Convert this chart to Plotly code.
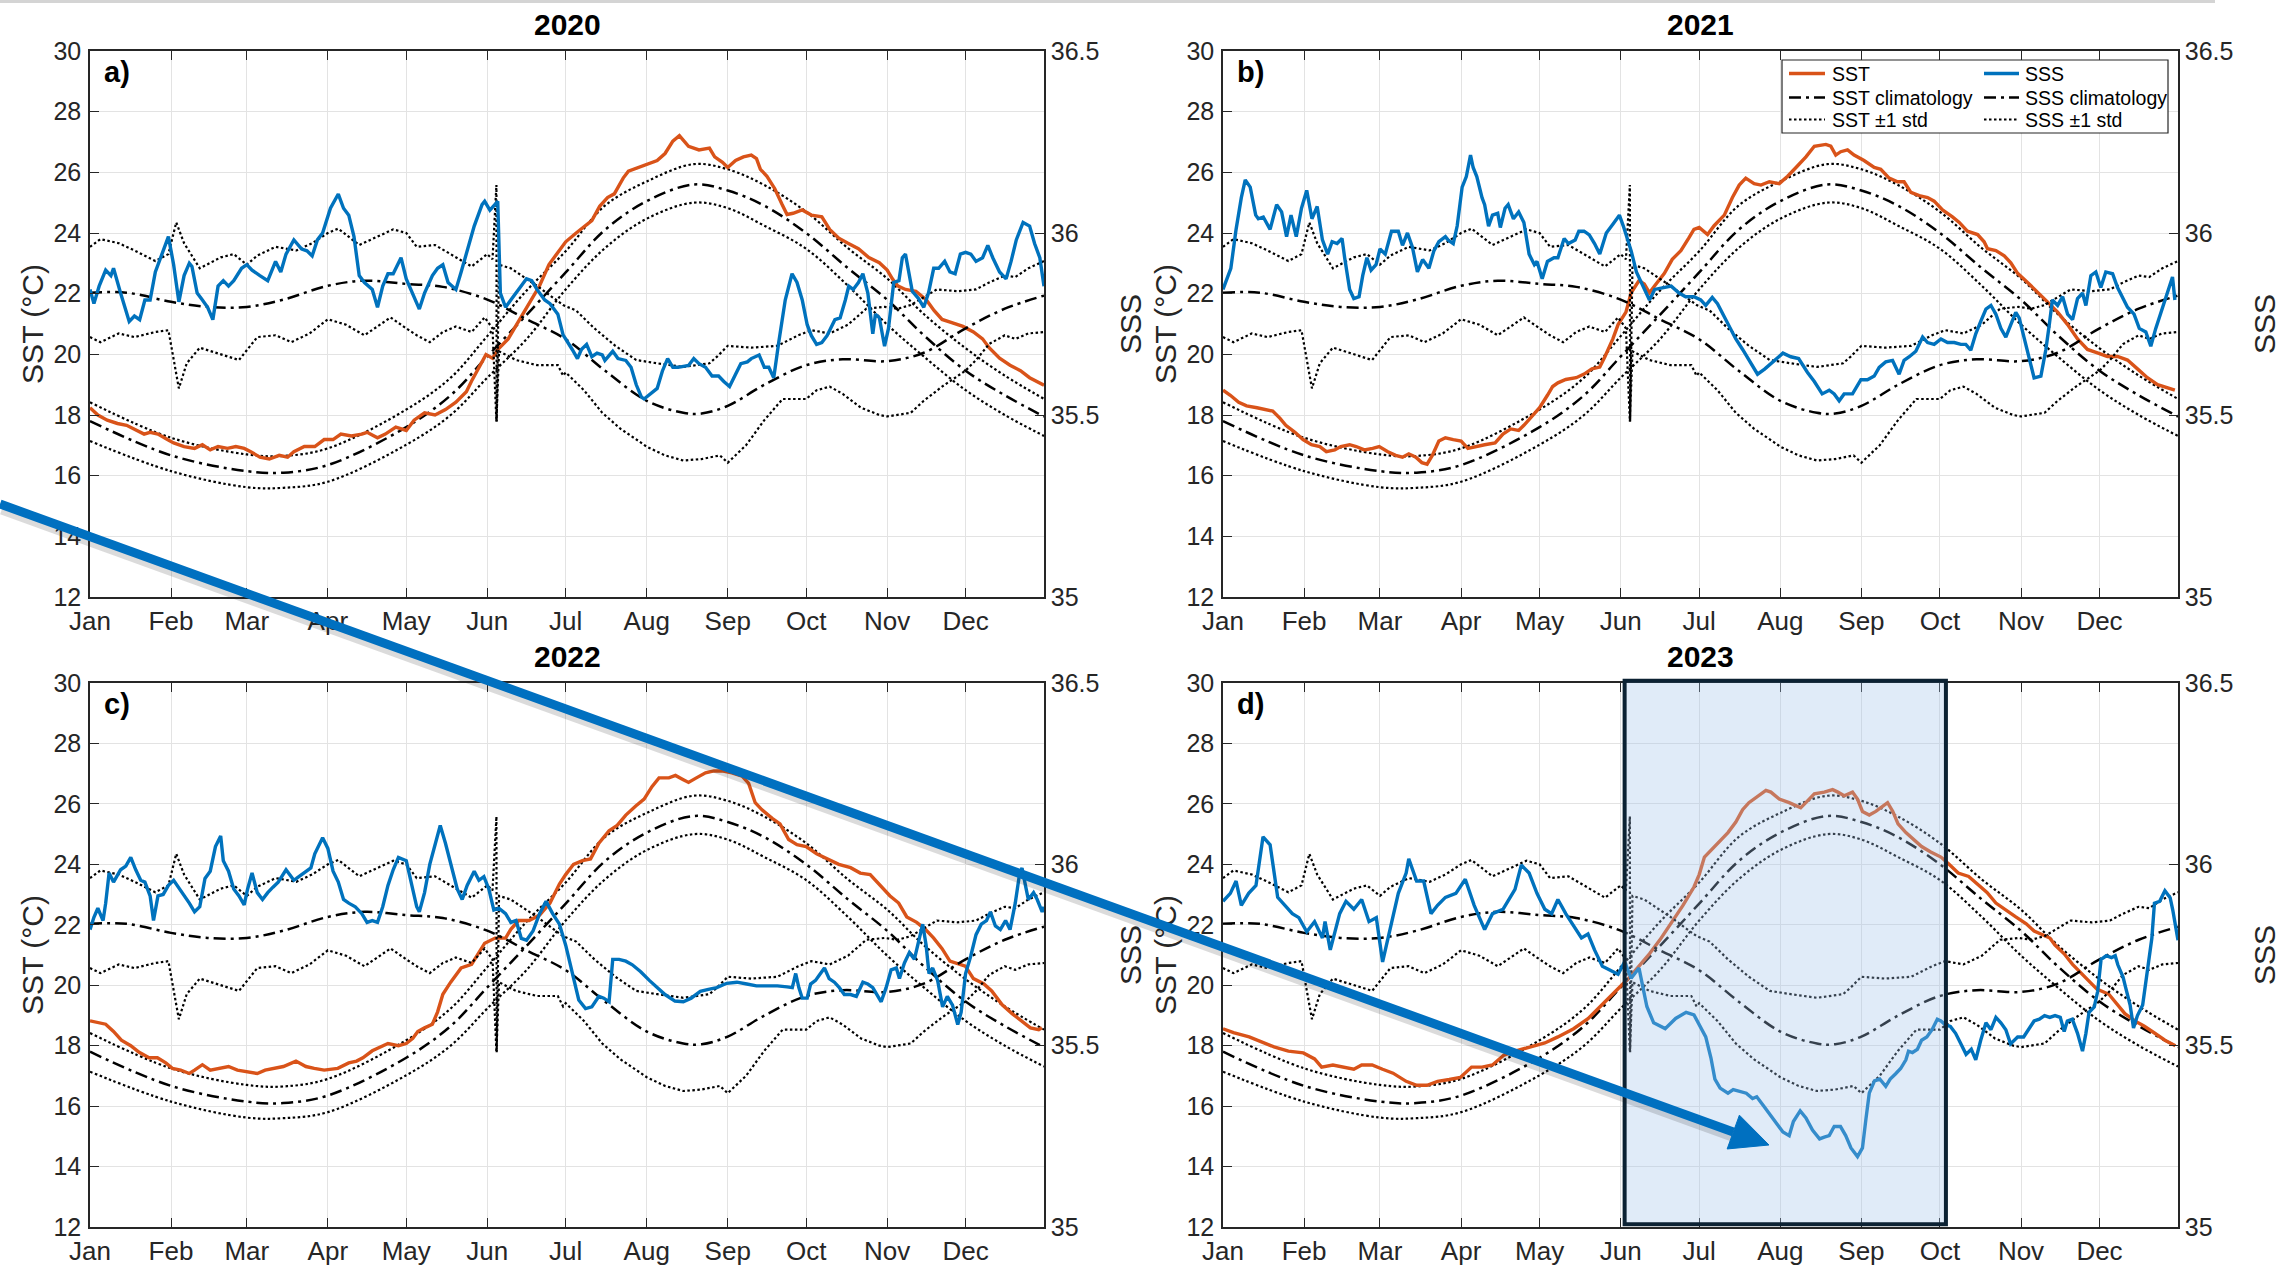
import plotly.graph_objects as go

W, H = 2295, 1265
FONT = "Liberation Sans, Arial, Helvetica, sans-serif"
AX = "#262626"
GRID = "#e3e3e3"
SST_COLOR = "#D95319"
SSS_COLOR = "#0072BD"

# ---------------------------------------------------------------- axes / labels
MONTHS = ["Jan", "Feb", "Mar", "Apr", "May", "Jun", "Jul", "Aug", "Sep", "Oct", "Nov", "Dec"]
MONTH_START_DAY = [1, 32, 61, 92, 122, 153, 183, 214, 245, 275, 306, 336]
YEARS = ["2020", "2021", "2022", "2023"]
PANEL_LETTERS = ["a)", "b)", "c)", "d)"]
SST_TICKS = [12, 14, 16, 18, 20, 22, 24, 26, 28, 30]
SSS_TICKS = [35, 35.5, 36, 36.5]
SSS_TICK_LABELS = ["35", "35.5", "36", "36.5"]
LEGEND_LABELS = ["SST", "SSS", "SST climatology", "SSS climatology", "SST \u00b11 std", "SSS \u00b11 std"]

# ---------------------------------------------------------------- climatology (day of year)
CLIM_SST_DAY = [1, 32, 61, 75, 92, 122, 139, 153, 168, 183, 198, 214, 232, 245, 259, 275, 291, 306, 320, 336, 351, 366]
SST_CLIM = [17.8, 16.67, 16.15, 16.1, 16.35, 17.6, 18.65, 19.93, 21.3, 22.7, 24.1, 25.05, 25.6, 25.4, 24.9, 24.0,
            22.84, 21.8, 20.63, 19.46, 18.65, 17.95]
SST_CLIM_PLUS = [18.42, 17.25, 16.7, 16.65, 16.9, 18.18, 19.23, 20.6, 22.1, 23.4, 24.9, 25.7, 26.27, 26.1, 25.58,
                 24.7, 23.5, 22.5, 21.33, 20.2, 19.3, 18.53]
SST_CLIM_MINUS = [17.14, 16.15, 15.62, 15.6, 15.8, 17.02, 18.0, 19.23, 20.5, 22.14, 23.5, 24.47, 25.0, 24.82, 24.24,
                  23.48, 22.26, 20.98, 19.93, 18.82, 18.0, 17.31]

CLIM_SSS_DAY = [1, 15, 32, 46, 61, 75, 92, 106, 122, 136, 153, 168, 183, 198, 214, 228, 235, 245, 259, 275, 289,
                306, 320, 336, 351, 366]
SSS_CLIM = [35.836, 35.836, 35.811, 35.797, 35.797, 35.817, 35.855, 35.869, 35.860, 35.852, 35.817, 35.763, 35.708,
            35.622, 35.539, 35.506, 35.504, 35.525, 35.583, 35.637, 35.653, 35.648, 35.671, 35.738, 35.792, 35.828]

SSS_STD_PLUS = [
    (1, 35.962), (5, 35.983), (12, 35.972), (18, 35.952), (26, 35.923), (31, 35.942), (34, 36.029), (37, 35.972),
    (43, 35.903), (51, 35.933), (56, 35.942), (61, 35.913), (65, 35.938), (72, 35.962), (80, 35.952), (86, 35.972),
    (92, 36.0), (96, 36.012), (104, 35.967), (111, 35.991), (117, 36.010), (122, 36.0), (126, 35.962),
    (133, 35.967), (141, 35.933), (147, 35.908), (153, 35.942), (155, 35.928), (156.5, 36.132), (156.6, 35.482),
    (157.5, 35.913), (162, 35.903), (172, 35.855), (182, 35.802), (187, 35.787), (194, 35.738), (202, 35.690),
    (210, 35.651), (218, 35.642), (228, 35.632), (238, 35.642), (241, 35.661), (245, 35.690), (254, 35.685),
    (264, 35.690), (272, 35.719), (277, 35.733), (284, 35.724), (291, 35.748), (298, 35.792), (305, 35.797),
    (310, 35.792), (315, 35.802), (325, 35.845), (333, 35.840), (340, 35.845), (345, 35.864), (351, 35.883),
    (355, 35.879), (360, 35.903), (366, 35.923),
]
SSS_STD_MINUS = [
    (1, 35.714), (5, 35.700), (12, 35.724), (18, 35.714), (26, 35.728), (31, 35.733), (35, 35.573), (38, 35.642),
    (43, 35.685), (51, 35.666), (58, 35.651), (65, 35.714), (72, 35.719), (78, 35.700), (85, 35.724), (92, 35.763),
    (99, 35.748), (106, 35.719), (111, 35.743), (116, 35.768), (122, 35.738), (126, 35.719), (131, 35.700),
    (136, 35.728), (141, 35.743), (147, 35.728), (152, 35.768), (155, 35.738), (156.5, 35.482), (157.5, 35.675),
    (164, 35.651), (172, 35.637), (180, 35.637), (182, 35.608), (183, 35.617), (190, 35.568), (197, 35.506),
    (204, 35.462), (211, 35.428), (214, 35.413), (221, 35.389), (228, 35.375), (235, 35.379), (242, 35.389),
    (245, 35.369), (252, 35.417), (259, 35.486), (266, 35.544), (275, 35.544), (279, 35.568), (284, 35.578),
    (289, 35.558), (296, 35.520), (303, 35.5), (306, 35.496), (310, 35.5), (315, 35.506), (320, 35.539),
    (327, 35.578), (336, 35.622), (340, 35.651), (345, 35.695), (351, 35.719), (355, 35.709), (360, 35.724),
    (366, 35.728),
]

# ---------------------------------------------------------------- daily observations (day of year, value)
SST_2020 = [
    (1, 18.24), (4, 18.0), (7.6, 17.83), (11.5, 17.72), (15, 17.66), (19, 17.49), (21.7, 17.37), (24, 17.43),
    (27, 17.37), (30.6, 17.19), (33, 17.08), (37, 16.96), (41, 16.9), (44, 17.02), (47, 16.85), (50, 16.96),
    (53.6, 16.9), (56.8, 16.96), (60, 16.9), (62.5, 16.79), (66, 16.61), (69.6, 16.55), (73.4, 16.67),
    (76.6, 16.61), (79, 16.79), (83, 16.96), (87, 16.96), (90.6, 17.19), (94, 17.19), (97, 17.37), (101, 17.31),
    (105, 17.37), (107, 17.43), (111, 17.25), (114, 17.37), (118, 17.6), (122, 17.49), (125, 17.83), (129, 18.07),
    (133, 18.0), (137, 18.18), (141, 18.42), (145, 18.77), (147, 19.12), (150, 19.58), (152.5, 19.99),
    (155, 19.87), (157, 20.16), (161, 20.51), (165, 21.09), (169, 21.68), (173, 22.26), (176.6, 22.96),
    (180.6, 23.42), (183, 23.71), (187, 24.0), (190.6, 24.24), (193, 24.41), (196, 24.88), (199, 25.17),
    (201.6, 25.29), (205, 25.81), (207, 26.04), (211, 26.16), (214, 26.27), (218, 26.39), (221, 26.62),
    (224, 27.03), (226.5, 27.21), (228.5, 27.03), (230, 26.86), (234, 26.74), (238, 26.8), (240, 26.51),
    (243, 26.33), (245, 26.16), (248, 26.39), (251, 26.51), (254, 26.57), (256, 26.45), (257.5, 26.1),
    (260, 25.87), (263, 25.46), (265.8, 24.94), (267.7, 24.61), (270, 24.65), (273.5, 24.76), (277, 24.59),
    (281, 24.53), (284, 24.12), (287.5, 23.83), (291, 23.66), (295, 23.48), (299, 23.19), (303, 23.02),
    (306, 22.78), (308, 22.49), (310, 22.26), (313, 22.14), (317, 22.08), (321, 21.79), (324, 21.44),
    (327, 21.15), (331, 21.04), (335, 20.92), (339, 20.74), (342.5, 20.51), (345, 20.22), (349, 19.87),
    (353, 19.64), (357, 19.46), (360.5, 19.23), (364.4, 19.06), (366, 18.98),
]
SSS_2020 = [
    (1, 35.845), (2.5, 35.806), (4.5, 35.854), (7, 35.898), (9, 35.883), (10, 35.903), (12.7, 35.835),
    (16, 35.757), (18, 35.772), (20, 35.762), (22, 35.816), (24, 35.816), (26, 35.893), (29, 35.951),
    (31, 35.990), (33, 35.913), (35, 35.811), (37, 35.883), (39, 35.917), (40, 35.908), (42, 35.835),
    (44, 35.816), (46, 35.796), (48, 35.762), (50, 35.854), (52, 35.869), (54, 35.854), (56, 35.869),
    (59, 35.903), (61, 35.913), (63, 35.898), (66, 35.883), (69, 35.869), (72, 35.922), (74, 35.893),
    (76, 35.942), (79, 35.981), (82, 35.956), (84, 35.951), (86, 35.937), (88, 35.981), (90, 36.000),
    (93, 36.068), (96, 36.107), (98, 36.068), (100, 36.049), (102, 35.990), (104, 35.883), (106, 35.864),
    (109, 35.845), (111, 35.796), (113, 35.854), (115, 35.888), (117, 35.888), (118, 35.903), (120, 35.932),
    (122, 35.874), (125, 35.825), (127, 35.791), (129, 35.835), (132, 35.883), (134, 35.903), (136, 35.913),
    (138, 35.864), (141, 35.845), (143, 35.893), (146, 35.971), (148, 36.019), (151, 36.078), (152, 36.087),
    (154, 36.063), (157, 36.087), (158, 35.835), (160, 35.796), (162, 35.816), (165, 35.845), (168, 35.874),
    (170, 35.869), (172, 35.845), (175, 35.816), (177, 35.806), (180, 35.777), (182, 35.720), (185.5, 35.680),
    (187.5, 35.655), (189, 35.680), (191, 35.694), (193, 35.660), (195, 35.670), (197, 35.665), (198, 35.650),
    (201, 35.675), (203, 35.655), (206, 35.650), (208, 35.631), (210, 35.583), (212, 35.549), (213, 35.544),
    (215.5, 35.558), (218, 35.573), (220, 35.621), (222, 35.655), (224, 35.631), (226, 35.631), (230, 35.636),
    (232, 35.655), (234, 35.641), (236.5, 35.631), (239, 35.607), (241.5, 35.607), (243.5, 35.592),
    (245.7, 35.578), (248, 35.612), (250, 35.641), (252.5, 35.646), (254, 35.655), (257, 35.665),
    (259, 35.631), (260.7, 35.631), (262.6, 35.602), (264.5, 35.699), (267, 35.816), (269.6, 35.888),
    (271.5, 35.864), (273.5, 35.816), (275.4, 35.748), (277, 35.718), (279, 35.694), (281, 35.699),
    (283, 35.718), (286, 35.762), (288, 35.767), (290, 35.816), (291.3, 35.854), (293, 35.845), (295, 35.864),
    (296.7, 35.888), (298.6, 35.835), (300.5, 35.723), (301.5, 35.777), (303, 35.767), (305, 35.689),
    (306.5, 35.738), (308.5, 35.864), (310.5, 35.869), (311.8, 35.932), (313, 35.942), (314, 35.903),
    (315.6, 35.840), (318, 35.820), (320, 35.796), (321.8, 35.835), (323.8, 35.903), (325.7, 35.903),
    (328, 35.922), (330, 35.893), (332, 35.888), (334, 35.942), (336, 35.947), (338, 35.942), (340, 35.922),
    (342.5, 35.932), (344.5, 35.966), (346.4, 35.932), (349, 35.893), (351.5, 35.874), (353.4, 35.922),
    (355.4, 35.981), (358, 36.029), (360.5, 36.019), (362.4, 35.971), (364.4, 35.932), (366, 35.854),
]

SST_2021 = [
    (1, 18.82), (3.8, 18.65), (7, 18.42), (10, 18.3), (14, 18.24), (18, 18.18), (20, 18.13), (22.8, 17.89),
    (25, 17.66), (28.5, 17.43), (31.6, 17.19), (34.8, 17.02), (38, 16.96), (40.5, 16.79), (43.7, 16.85),
    (46, 16.96), (49.4, 17.02), (51.9, 16.96), (55, 16.85), (58.2, 16.9), (60.7, 16.96), (64, 16.79),
    (67, 16.67), (69.6, 16.61), (72, 16.72), (74.7, 16.61), (77, 16.43), (79, 16.38), (81, 16.67), (83.5, 17.14),
    (86, 17.25), (89, 17.19), (92, 17.14), (94.6, 16.9), (97.5, 16.96), (101, 17.02), (105, 17.08), (108, 17.37),
    (111, 17.54), (114, 17.49), (116, 17.66), (119, 17.95), (122, 18.24), (125, 18.65), (127, 18.94),
    (129, 19.06), (132, 19.17), (136, 19.23), (139, 19.35), (142, 19.52), (145, 19.58), (147, 19.93),
    (150, 20.51), (152, 20.98), (155, 21.39), (157, 22.03), (160, 22.43), (162, 22.32), (164, 22.03),
    (166, 22.26), (169.7, 22.67), (172.7, 23.13), (176, 23.42), (179, 23.83), (181, 24.12), (183, 24.18),
    (186.2, 23.95), (188.7, 24.24), (192.6, 24.59), (195.7, 25.17), (198.3, 25.58), (200.8, 25.81),
    (204, 25.63), (206.6, 25.58), (209.8, 25.69), (213.6, 25.63), (216.8, 25.87), (220, 26.16),
    (223.8, 26.51), (227, 26.86), (231.4, 26.92), (233.3, 26.86), (235.2, 26.57), (237.1, 26.68),
    (239.7, 26.74), (242.2, 26.57), (246, 26.39), (249.9, 26.16), (252.4, 26.10), (255.6, 25.81),
    (258.8, 25.69), (261.3, 25.69), (263.9, 25.34), (267.1, 25.23), (270.3, 25.17), (272.8, 25.05),
    (276, 24.76), (279.8, 24.53), (282.4, 24.35), (285.5, 24.06), (289.4, 23.95), (291.9, 23.71),
    (293.2, 23.48), (296.4, 23.42), (299.6, 23.25), (302.1, 23.02), (304.7, 22.67), (308.5, 22.37),
    (312.3, 22.03), (316.1, 21.73), (320, 21.39), (323.8, 20.98), (327.6, 20.51), (331.4, 20.16),
    (335.2, 20.05), (339, 19.93), (342.9, 19.93), (346.7, 19.81), (350.5, 19.52), (354.3, 19.23),
    (358.2, 19.0), (362, 18.88), (364.8, 18.82),
]
SSS_2021 = [
    (1, 35.845), (2.5, 35.874), (4, 35.903), (6, 36.010), (8, 36.097), (9.5, 36.146), (11.4, 36.126),
    (13.5, 36.049), (14.5, 36.039), (16.4, 36.044), (19, 36.010), (21.5, 36.078), (23.4, 36.058),
    (25.3, 35.990), (27, 36.049), (29, 35.990), (31, 36.068), (33, 36.117), (35, 36.039), (37, 36.073),
    (39, 35.981), (41, 35.942), (42.7, 35.976), (44.6, 35.971), (46.5, 35.985), (47.5, 35.932), (49.4, 35.845),
    (51, 35.820), (53, 35.825), (54.4, 35.883), (56, 35.932), (57.6, 35.898), (59.5, 35.913), (61, 35.956),
    (63, 35.942), (65.4, 36.005), (68, 36.005), (69.6, 35.966), (71.5, 36.000), (73.4, 35.961), (75.3, 35.893),
    (77.3, 35.927), (79.7, 35.903), (81.6, 35.951), (83.5, 35.976), (86, 35.990), (87, 35.981), (89, 35.971),
    (90.5, 36.019), (92.4, 36.126), (94, 36.155), (95.6, 36.214), (96.6, 36.180), (98, 36.155), (100, 36.097),
    (101, 36.078), (102.5, 36.019), (104, 36.049), (106, 36.054), (107, 36.015), (108.8, 36.068),
    (110, 36.078), (112, 36.039), (114, 36.058), (116, 36.029), (118, 35.942), (120, 35.913), (121, 35.922),
    (123, 35.874), (125, 35.922), (127.5, 35.932), (129, 35.932), (131.4, 35.985), (133, 35.971),
    (135.6, 35.981), (137, 36.005), (139, 36.005), (141, 35.995), (143, 35.971), (145, 35.942), (147.5, 36.000),
    (150, 36.024), (152.5, 36.049), (154, 36.019), (157, 35.951), (159, 35.893), (161.5, 35.854),
    (164, 35.816), (166, 35.845), (169, 35.850), (172.3, 35.854), (175.3, 35.835), (177.8, 35.825),
    (181, 35.825), (183.6, 35.816), (185.5, 35.801), (188, 35.823), (190, 35.806), (192, 35.777),
    (194.5, 35.743), (197, 35.709), (199.6, 35.680), (202, 35.650), (205.3, 35.612), (208, 35.626),
    (211, 35.646), (215, 35.670), (218, 35.660), (221, 35.655), (224.4, 35.617), (227, 35.592), (230, 35.558),
    (232.7, 35.568), (234.6, 35.558), (236.5, 35.539), (238.4, 35.558), (241.6, 35.558), (244.8, 35.597),
    (247.3, 35.597), (249.9, 35.607), (251.8, 35.631), (254.3, 35.646), (256.9, 35.650), (259.4, 35.612),
    (261.3, 35.650), (263.3, 35.660), (265.8, 35.675), (268.4, 35.714), (270.3, 35.699), (272.8, 35.694),
    (275.4, 35.709), (277.9, 35.699), (280.5, 35.699), (283, 35.694), (284.9, 35.694), (286.8, 35.678),
    (288.7, 35.723), (290.6, 35.757), (292.6, 35.791), (294.5, 35.801), (296.4, 35.777), (298.3, 35.738),
    (300.2, 35.714), (302.1, 35.748), (304, 35.782), (305.3, 35.767), (307.2, 35.709), (309.1, 35.660),
    (311, 35.602), (313.6, 35.607), (315.5, 35.680), (316.8, 35.748), (318, 35.816), (320, 35.801),
    (321.9, 35.825), (323.8, 35.777), (325.7, 35.762), (327.6, 35.820), (329.5, 35.835), (330.8, 35.801),
    (332.7, 35.883), (334.6, 35.893), (336.5, 35.850), (338.4, 35.893), (341, 35.888), (342.9, 35.850),
    (344.8, 35.825), (346.7, 35.796), (349.2, 35.777), (351.2, 35.738), (353.7, 35.728), (355.6, 35.689),
    (357.5, 35.738), (359.4, 35.782), (362, 35.835), (363.9, 35.879), (364.8, 35.816),
]

SST_2022 = [
    (1, 18.82), (4, 18.77), (7, 18.71), (10, 18.47), (13, 18.18), (16.6, 18.0), (19.8, 17.78), (23.6, 17.6),
    (26.8, 17.6), (30, 17.43), (32.5, 17.25), (35.7, 17.19), (39, 17.08), (41, 17.19), (44, 17.37), (47, 17.19),
    (50, 17.25), (54, 17.31), (57.4, 17.19), (61, 17.14), (65, 17.08), (68, 17.19), (71.5, 17.25), (75, 17.31),
    (79.8, 17.49), (83.6, 17.31), (86.8, 17.25), (90.6, 17.19), (95.8, 17.25), (100, 17.43), (103, 17.49),
    (105.4, 17.6), (109, 17.83), (112, 17.95), (115, 18.07), (119, 18.0), (122, 18.07), (124.5, 18.24),
    (126.4, 18.47), (129, 18.59), (132, 18.71), (134, 19.12), (136, 19.7), (139, 20.1), (143, 20.57),
    (147, 20.69), (150, 21.09), (152, 21.39), (156, 21.56), (160, 21.56), (162, 21.85), (165, 22.14),
    (169, 22.14), (173, 22.32), (177, 22.72), (180.6, 23.35), (183, 23.66), (186, 24.0), (189.4, 24.12),
    (192.5, 24.18), (195.7, 24.7), (199.6, 25.11), (202.7, 25.29), (206, 25.63), (209.8, 25.93), (213, 26.16),
    (216, 26.57), (218.7, 26.86), (222.5, 26.86), (225, 26.94), (228, 26.8), (230, 26.71), (233, 26.86),
    (236.5, 27.03), (239.7, 27.09), (242.8, 27.09), (246.6, 27.03), (250.5, 26.92), (253, 26.68),
    (255.5, 26.04), (258, 25.81), (262, 25.52), (265, 25.34), (268.3, 24.82), (271.5, 24.65), (275, 24.59),
    (279, 24.35), (283, 24.18), (287.5, 24.0), (292, 23.89), (295.7, 23.71), (299.5, 23.66), (303.3, 23.31),
    (307, 22.96), (310.4, 22.72), (313.5, 22.26), (317.3, 22.08), (320.6, 21.85), (323.8, 21.56), (327, 21.21),
    (330, 20.8), (333.3, 20.69), (335.9, 20.63), (339, 20.22), (342.9, 20.05), (346, 19.81), (350, 19.35),
    (353.8, 19.06), (357.6, 18.82), (360.8, 18.59), (364, 18.53), (365.2, 18.59),
]
SSS_2022 = [
    (1, 35.820), (2.5, 35.854), (4, 35.879), (6, 35.845), (7, 35.893), (8.3, 35.976), (10, 35.951),
    (12.7, 35.985), (14.7, 35.995), (16.6, 36.019), (18.5, 35.985), (20.4, 35.956), (22, 35.951), (24, 35.913),
    (25.3, 35.845), (27, 35.913), (29, 35.917), (31, 35.942), (33, 35.956), (35.4, 35.932), (37, 35.913),
    (39, 35.893), (41, 35.869), (43, 35.883), (45, 35.961), (47, 35.981), (49, 36.049), (51, 36.078),
    (52, 36.010), (54, 35.981), (56, 35.932), (58, 35.913), (60, 35.888), (61.3, 35.932), (63, 35.976),
    (65, 35.922), (67, 35.903), (69, 35.922), (71, 35.937), (73, 35.951), (76, 35.985), (79, 35.956),
    (80, 35.961), (83, 35.976), (85.5, 35.990), (87, 36.029), (90, 36.073), (92, 36.044), (94, 35.981),
    (96, 35.951), (98, 35.903), (100, 35.893), (102.5, 35.883), (105, 35.864), (107, 35.840), (109, 35.845),
    (111, 35.840), (113, 35.883), (115, 35.942), (117, 35.985), (119, 36.019), (122, 36.010), (124, 35.942),
    (126, 35.883), (127, 35.869), (129, 35.922), (131, 36.000), (133, 36.058), (135, 36.107), (137, 36.058),
    (139, 36.000), (141.5, 35.932), (143.4, 35.903), (145.3, 35.942), (148, 35.981), (149.8, 35.956),
    (151.7, 35.966), (153.6, 35.932), (155.5, 35.874), (157.4, 35.879), (160, 35.864), (162, 35.840),
    (164, 35.845), (166, 35.796), (168, 35.791), (170.5, 35.816), (173, 35.864), (175.5, 35.898),
    (178, 35.864), (180.6, 35.835), (183, 35.777), (184.3, 35.738), (186, 35.680), (188, 35.626),
    (190.6, 35.602), (193, 35.607), (195.7, 35.636), (197.6, 35.631), (199.6, 35.621), (201, 35.738),
    (203.4, 35.738), (206, 35.733), (208.5, 35.723), (211.7, 35.704), (215, 35.680), (218, 35.660),
    (221, 35.641), (224.8, 35.623), (228, 35.621), (231, 35.631), (234.5, 35.650), (237.6, 35.655),
    (240.8, 35.660), (244.6, 35.672), (248.5, 35.675), (252.3, 35.670), (256, 35.665), (260, 35.665),
    (264, 35.665), (267.7, 35.662), (269.7, 35.660), (271, 35.699), (272.2, 35.660), (273.5, 35.631),
    (275.4, 35.631), (276.7, 35.670), (278.6, 35.680), (280, 35.694), (282, 35.714), (283.8, 35.685),
    (285.8, 35.675), (287.7, 35.660), (289.6, 35.641), (292, 35.641), (294.2, 35.636), (296.7, 35.675),
    (298.6, 35.670), (300.5, 35.660), (302, 35.641), (303.7, 35.621), (305.6, 35.660), (307.5, 35.709),
    (309.5, 35.714), (310.7, 35.685), (312.6, 35.728), (314.5, 35.757), (316.4, 35.738), (318.3, 35.796),
    (319.6, 35.835), (320.9, 35.777), (322, 35.699), (323.4, 35.714), (325.3, 35.680), (327.2, 35.607),
    (329, 35.636), (331, 35.612), (333, 35.558), (334.3, 35.592), (336, 35.699), (338, 35.748), (340, 35.806),
    (342, 35.835), (344, 35.845), (345.5, 35.869), (347.4, 35.830), (349.3, 35.820), (351.3, 35.845),
    (353, 35.820), (355, 35.893), (356.6, 35.971), (357.6, 35.990), (358.9, 35.942), (360, 35.903),
    (362, 35.922), (363.4, 35.903), (365.3, 35.869), (366, 35.883),
]

SST_2023 = [
    (1, 18.56), (5, 18.43), (11, 18.29), (15, 18.16), (20.5, 17.96), (26, 17.82), (31.7, 17.76), (36, 17.56),
    (38.7, 17.29), (43, 17.36), (47, 17.29), (51, 17.22), (54, 17.36), (58, 17.36), (62, 17.22), (66, 17.09),
    (71, 16.82), (75, 16.69), (79, 16.69), (83, 16.82), (87.5, 16.88), (91.7, 16.95), (96, 17.29), (100, 17.29),
    (104, 17.36), (108.4, 17.69), (112.6, 17.82), (118, 17.96), (124, 18.09), (129, 18.29), (135, 18.56),
    (140.5, 18.89), (146, 19.36), (152, 19.9), (156, 20.23), (160, 20.63), (164, 21.04), (168, 21.5),
    (172.6, 22.1), (176.8, 22.64), (181, 23.25), (183, 23.66), (185, 24.24), (187.5, 24.47), (190.6, 24.76),
    (194, 25.05), (197, 25.4), (199.6, 25.81), (202, 26.04), (205, 26.22), (208.5, 26.45), (210.4, 26.39),
    (213.6, 26.16), (217.4, 26.04), (220, 25.93), (221.8, 25.87), (224.4, 26.1), (227, 26.33), (230.8, 26.39),
    (234, 26.47), (236, 26.39), (238.4, 26.27), (241.6, 26.39), (243.5, 26.16), (245.4, 25.75), (248, 25.63),
    (250.5, 25.75), (253, 25.93), (255, 26.04), (257, 25.75), (259, 25.34), (262, 25.05), (265, 24.82),
    (268, 24.59), (271.5, 24.41), (275.4, 24.24), (278.5, 24.0), (282, 23.71), (286, 23.6), (289, 23.36),
    (293, 23.07), (296.4, 22.72), (300, 22.49), (304, 22.26), (308, 22.03), (311, 21.79), (314, 21.68),
    (317, 21.56), (319, 21.33), (322.5, 21.04), (325.7, 20.69), (329, 20.4), (332, 20.1), (335, 19.87),
    (339.6, 19.7), (342.5, 19.41), (345.7, 19.06), (349.5, 18.82), (353, 18.65), (357, 18.42), (361, 18.18),
    (365, 18.0),
]
SSS_2023 = [
    (1, 35.898), (3.8, 35.920), (6, 35.954), (8, 35.887), (10.8, 35.920), (13.6, 35.942), (16.3, 36.076),
    (19, 36.054), (21.9, 35.909), (24.7, 35.887), (27.5, 35.864), (30, 35.853), (33, 35.814), (36, 35.842),
    (39, 35.797), (40, 35.842), (42, 35.764), (45.6, 35.864), (48, 35.898), (51, 35.876), (54, 35.903),
    (56.8, 35.842), (59.6, 35.853), (62, 35.731), (65, 35.831), (68, 35.920), (71, 35.976), (72, 36.015),
    (75, 35.954), (77.7, 35.954), (80.5, 35.864), (83, 35.887), (86, 35.909), (90, 35.920), (93.6, 35.959),
    (97, 35.887), (101, 35.820), (104, 35.864), (108, 35.876), (112.6, 35.931), (115, 35.998), (118, 35.976),
    (121, 35.920), (124, 35.876), (126.6, 35.864), (129, 35.903), (132, 35.864), (135, 35.831), (138, 35.797),
    (140.5, 35.808), (143, 35.764), (146, 35.719), (149, 35.708), (152, 35.697), (154.5, 35.731),
    (157, 35.686), (160, 35.714), (163, 35.608), (165.6, 35.563), (170, 35.547), (174, 35.575), (178, 35.592),
    (181, 35.585), (183, 35.558), (185.5, 35.524), (187.5, 35.466), (189, 35.408), (191, 35.383),
    (194, 35.369), (196, 35.379), (198, 35.374), (201, 35.369), (203.4, 35.354), (205, 35.359), (208, 35.330),
    (210, 35.311), (213, 35.282), (215, 35.262), (217.4, 35.252), (219, 35.291), (221.6, 35.320),
    (223.8, 35.301), (226.3, 35.267), (229, 35.243), (230.8, 35.248), (232.7, 35.252), (234.6, 35.277),
    (237, 35.277), (239, 35.252), (241, 35.218), (243.5, 35.194), (245.4, 35.218), (246.7, 35.296),
    (248, 35.369), (250, 35.403), (252, 35.408), (254.3, 35.388), (256, 35.408), (258, 35.422), (260, 35.437),
    (262, 35.461), (263, 35.485), (264.5, 35.481), (266.4, 35.490), (268, 35.515), (270, 35.524),
    (272, 35.544), (274, 35.573), (275.4, 35.568), (277, 35.558), (279, 35.553), (281, 35.534), (283, 35.505),
    (285, 35.476), (287, 35.490), (288.7, 35.461), (290.6, 35.515), (292.6, 35.563), (294.5, 35.544),
    (296.4, 35.578), (298.3, 35.563), (300.2, 35.544), (302, 35.505), (304.7, 35.524), (307, 35.524),
    (309, 35.544), (311, 35.568), (313, 35.573), (315, 35.583), (317, 35.578), (319, 35.583), (321, 35.578),
    (322.5, 35.539), (323.7, 35.568), (325.6, 35.573), (327.6, 35.534), (329.5, 35.485), (330.8, 35.534),
    (332, 35.592), (334, 35.607), (335.3, 35.650), (336.6, 35.738), (338.6, 35.748), (340.6, 35.743),
    (342, 35.748), (343, 35.723), (345, 35.689), (346, 35.660), (347.7, 35.612), (349, 35.549),
    (350.5, 35.583), (352.5, 35.612), (354, 35.689), (356, 35.796), (357, 35.893), (359, 35.898),
    (361, 35.927), (363, 35.908), (364, 35.874), (365.5, 35.816), (366, 35.791),
]

SST_BY_YEAR = [SST_2020, SST_2021, SST_2022, SST_2023]
SSS_BY_YEAR = [SSS_2020, SSS_2021, SSS_2022, SSS_2023]

# period highlighted in the 2023 panel (day of year)
HIGHLIGHT_START, HIGHLIGHT_END = 154.5, 277.3

# ---------------------------------------------------------------- geometry (pixels)
PANELS = [(90, 1044, 51, 597), (1223, 2178, 51, 597), (90, 1044, 683, 1227), (1223, 2178, 683, 1227)]


def px(x):
    return x / W


def py(y):
    return 1 - y / H


def split(pairs):
    return [p[0] for p in pairs], [p[1] for p in pairs]


CLIM_DASH = "12px,5px,3px,5px"
STD_DASH = "2.5px,2.5px"

fig = go.Figure()
layout = {}
annotations = []
shapes = []

tickfont = dict(family=FONT, size=25, color=AX)
axis_style = dict(showline=True, linecolor=AX, linewidth=1.5, ticks="inside", ticklen=9, tickwidth=1.3,
                  tickcolor=AX, tickfont=tickfont, zeroline=False, automargin=False)

for i in range(4):
    x0, x1, y0, y1 = PANELS[i]
    suffix = "" if i == 0 else str(i + 1)
    xa, ya, ya2 = "x" + suffix, "y" + suffix, "y" + str(i + 5)

    layout["xaxis" + suffix] = dict(
        axis_style, domain=[px(x0), px(x1)], range=[1, 366], anchor=ya, tickmode="array",
        tickvals=MONTH_START_DAY, ticktext=MONTHS, showgrid=True, gridcolor=GRID, gridwidth=1, mirror="ticks",
        tickfont=dict(family=FONT, size=26, color=AX))
    layout["yaxis" + suffix] = dict(
        axis_style, domain=[py(y1), py(y0)], range=[12, 30], anchor=xa, tickmode="array",
        tickvals=SST_TICKS, showgrid=True, gridcolor=GRID, gridwidth=1, side="left", ticklabelstandoff=2)
    layout["yaxis" + str(i + 5)] = dict(
        axis_style, overlaying=ya, anchor=xa, side="right", range=[35, 36.5], tickmode="array",
        tickvals=SSS_TICKS, ticktext=SSS_TICK_LABELS, showgrid=False)

    # SST climatology and its +-1 std envelope
    for vals, dash, w in [(SST_CLIM_PLUS, STD_DASH, 2.2), (SST_CLIM_MINUS, STD_DASH, 2.2), (SST_CLIM, CLIM_DASH, 2.5)]:
        fig.add_trace(go.Scatter(x=CLIM_SST_DAY, y=vals, mode="lines", xaxis=xa, yaxis=ya, showlegend=False,
                                 line=dict(color="black", width=w, dash=dash, shape="spline"), hoverinfo="skip"))
    d, v = split(SST_BY_YEAR[i])
    fig.add_trace(go.Scatter(x=d, y=v, mode="lines", xaxis=xa, yaxis=ya, showlegend=False,
                             line=dict(color=SST_COLOR, width=3.4)))

    # SSS climatology and its +-1 std envelope
    for pairs in (SSS_STD_PLUS, SSS_STD_MINUS):
        d, v = split(pairs)
        fig.add_trace(go.Scatter(x=d, y=v, mode="lines", xaxis=xa, yaxis=ya2, showlegend=False,
                                 line=dict(color="black", width=2.2, dash=STD_DASH), hoverinfo="skip"))
    fig.add_trace(go.Scatter(x=CLIM_SSS_DAY, y=SSS_CLIM, mode="lines", xaxis=xa, yaxis=ya2, showlegend=False,
                             line=dict(color="black", width=2.5, dash=CLIM_DASH, shape="spline"), hoverinfo="skip"))
    d, v = split(SSS_BY_YEAR[i])
    fig.add_trace(go.Scatter(x=d, y=v, mode="lines", xaxis=xa, yaxis=ya2, showlegend=False,
                             line=dict(color=SSS_COLOR, width=3.4)))

    # year title and panel letter
    annotations.append(dict(text="<b>%s</b>" % YEARS[i], x=px((x0 + x1) / 2), y=py(y0 - 27), xref="paper",
                            yref="paper", showarrow=False, xanchor="center", yanchor="middle",
                            font=dict(family=FONT, size=30, color="black")))
    annotations.append(dict(text="<b>%s</b>" % PANEL_LETTERS[i], x=px(x0 + 12), y=py(y0 + 21), xref="paper",
                            yref="paper", showarrow=False, xanchor="left", yanchor="middle",
                            font=dict(family=FONT, size=29, color="black")))

    # axis titles, kept in the shape layer so the overlay arrow can pass over them
    cy = (y0 + y1) / 2
    for cx, txt in [(x0 - 61, "SST (\u00b0C)"), (x1 + 83, "SSS")]:
        shapes.append(dict(type="rect", xref="paper", yref="paper", x0=px(cx - 15), x1=px(cx + 15),
                           y0=py(cy + 80), y1=py(cy - 80), line=dict(width=0), fillcolor="rgba(0,0,0,0)",
                           layer="above",
                           label=dict(text=txt, textangle=-90, textposition="middle center",
                                      font=dict(family=FONT, size=30, color=AX))))

# ---------------------------------------------------------------- legend (panel b, two columns)
LX0, LX1, LY0, LY1 = 1782, 2168, 60, 133
shapes.append(dict(type="rect", xref="paper", yref="paper", x0=px(LX0), x1=px(LX1), y0=py(LY1), y1=py(LY0),
                   line=dict(color=AX, width=1.2), fillcolor="white", layer="above"))
row_y = [73.5, 97.5, 119.5]
col_x = [(1789, 1825, 1830), (1984, 2019, 2023)]
styles = [(SST_COLOR, 3.4, "solid"), (SSS_COLOR, 3.4, "solid"), ("black", 2.5, CLIM_DASH),
          ("black", 2.5, CLIM_DASH), ("black", 2.2, STD_DASH), ("black", 2.2, STD_DASH)]
for k, label in enumerate(LEGEND_LABELS):
    r, c = k // 2, k % 2
    sx0, sx1, tx = col_x[c]
    color, w, dash = styles[k]
    shapes.append(dict(type="line", xref="paper", yref="paper", x0=px(sx0), x1=px(sx1), y0=py(row_y[r]),
                       y1=py(row_y[r]), line=dict(color=color, width=w, dash=dash), layer="above"))
    annotations.append(dict(text=label, x=px(tx), y=py(row_y[r]), xref="paper", yref="paper", showarrow=False,
                            xanchor="left", yanchor="middle", font=dict(family=FONT, size=19.5, color="black")))

# ---------------------------------------------------------------- highlighted period in 2023
shapes.append(dict(type="rect", xref="x4", yref="y4 domain", x0=HIGHLIGHT_START, x1=HIGHLIGHT_END, y0=0.005,
                   y1=1.004, fillcolor="rgba(160,195,235,0.33)", line=dict(color="#0c2233", width=4),
                   layer="above"))

# ---------------------------------------------------------------- overlay arrow
A0 = (0.0, 504.0)
TIP = (1769.0, 1145.0)
HEAD_LEN, HEAD_HALF = 38.0, 18.0
dx, dy = TIP[0] - A0[0], TIP[1] - A0[1]
norm = (dx * dx + dy * dy) ** 0.5
ux, uy = dx / norm, dy / norm
bx, by = TIP[0] - HEAD_LEN * ux, TIP[1] - HEAD_LEN * uy
# soft drop shadow
shapes.append(dict(type="line", xref="paper", yref="paper", x0=px(A0[0] + 2), y0=py(A0[1] + 5),
                   x1=px(bx + 2), y1=py(by + 5), line=dict(color="rgba(30,30,30,0.16)", width=11),
                   layer="above"))
shapes.append(dict(type="line", xref="paper", yref="paper", x0=px(A0[0]), y0=py(A0[1]), x1=px(bx), y1=py(by),
                   line=dict(color="#0070C0", width=9), layer="above"))
c1 = (bx - HEAD_HALF * uy, by + HEAD_HALF * ux)
c2 = (bx + HEAD_HALF * uy, by - HEAD_HALF * ux)
path = "M %f %f L %f %f L %f %f Z" % (px(TIP[0]), py(TIP[1]), px(c1[0]), py(c1[1]), px(c2[0]), py(c2[1]))
shapes.append(dict(type="path", xref="paper", yref="paper", path=path, fillcolor="#0070C0",
                   line=dict(color="#0070C0", width=1), layer="above"))

# thin grey rule along the top edge
shapes.append(dict(type="line", xref="paper", yref="paper", x0=0, x1=px(2215), y0=py(1.5), y1=py(1.5),
                   line=dict(color="#d4d4d4", width=3), layer="above"))

fig.update_layout(
    width=W, height=H, margin=dict(l=0, r=0, t=0, b=0, pad=0, autoexpand=False),
    paper_bgcolor="white", plot_bgcolor="white", showlegend=False,
    font=dict(family=FONT, color=AX),
    annotations=annotations, shapes=shapes, **layout)

fig.write_html("out.html")
